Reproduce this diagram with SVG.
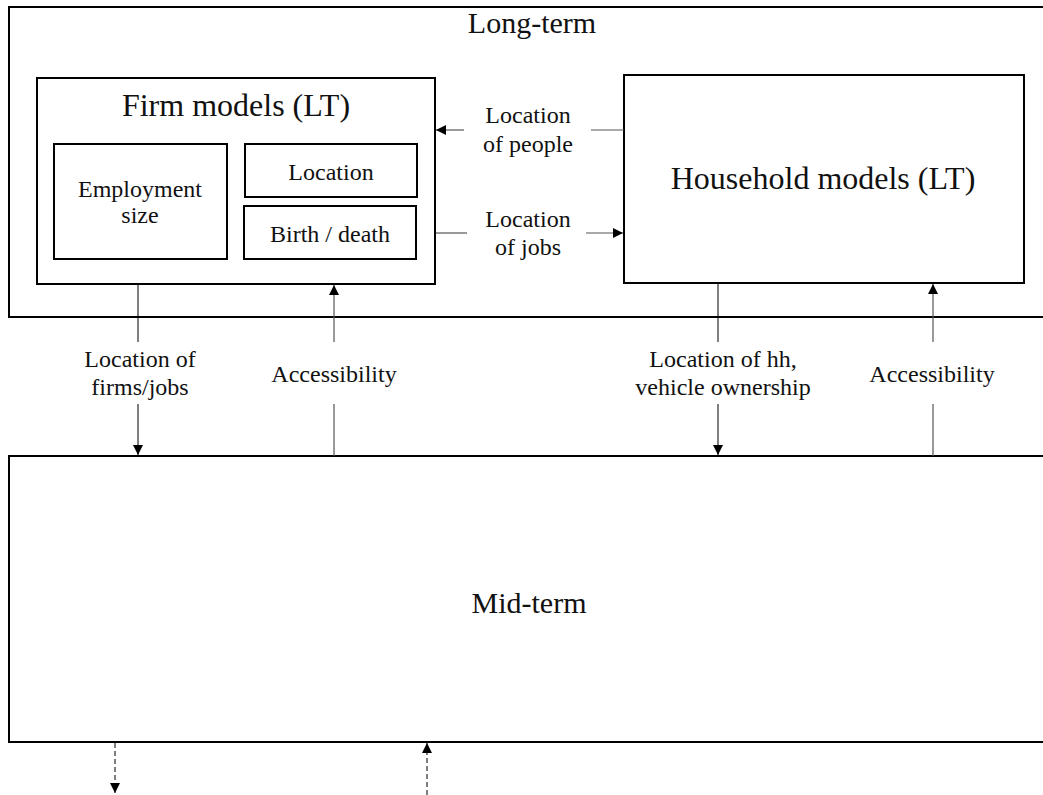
<svg xmlns="http://www.w3.org/2000/svg" width="1043" height="795" viewBox="0 0 1043 795">
<style>
.frame{fill:none;stroke:#000;stroke-width:2}
.box{fill:#fff;stroke:#000;stroke-width:2}
.ln{fill:none;stroke:#000;stroke-width:1}
.gl{fill:none;stroke:#555;stroke-width:1.2}
.dash{fill:none;stroke:#000;stroke-width:1;stroke-dasharray:5,3}
text{fill:#111;text-anchor:middle}
.big{font-size:32px}
.mid{font-size:30px}
.sm{font-size:24px}
</style>
<defs>
<marker id="ah" viewBox="0 0 10 10" refX="10" refY="5" markerWidth="10" markerHeight="10" markerUnits="userSpaceOnUse" orient="auto">
<path d="M0,0 L10,5 L0,10 Z" fill="#000"/>
</marker>
</defs>

<g font-family="'Liberation Serif', 'DejaVu Serif', serif">
<g id="long-term">
<path class="frame" d="M1045,7 H9 V317 H1045"/>
<text class="mid" x="532" y="33">Long-term</text>
</g>

<g id="mid-term">
<path class="frame" d="M1045,456 H9 V742 H1045"/>
<text class="mid" x="529" y="613">Mid-term</text>
</g>

<g id="firm-models">
<rect class="box" x="37" y="78" width="398" height="206"/>
<text class="big" x="236" y="116">Firm models (LT)</text>
</g>
<g id="employment-size">
<rect class="box" x="54" y="144" width="173" height="115"/>
<text class="sm" x="140" y="197">Employment</text>
<text class="sm" x="140" y="223">size</text>
</g>
<g id="location">
<rect class="box" x="245" y="144" width="172" height="53"/>
<text class="sm" x="331" y="180">Location</text>
</g>
<g id="birth-death">
<rect class="box" x="244" y="206" width="172" height="53"/>
<text class="sm" x="330" y="242">Birth / death</text>
</g>

<g id="household-models">
<rect class="box" x="624" y="75" width="400" height="208"/>
<text class="big" x="823" y="189">Household models (LT)</text>
</g>

<g id="connectors">
<!-- location of people -->
<line class="gl" x1="624" y1="130" x2="591" y2="130"/>
<line class="gl" x1="464" y1="130" x2="436" y2="130" marker-end="url(#ah)"/>
<!-- location of jobs -->
<line class="gl" x1="436" y1="233" x2="467" y2="233"/>
<line class="gl" x1="586" y1="233" x2="623" y2="233" marker-end="url(#ah)"/>
<!-- firm locations down -->
<line class="ln" x1="138" y1="285" x2="138" y2="342"/>
<line class="ln" x1="138" y1="404" x2="138" y2="455" marker-end="url(#ah)"/>
<!-- firm accessibility up -->
<line class="gl" x1="334" y1="342" x2="334" y2="285" marker-end="url(#ah)"/>
<line class="gl" x1="334" y1="404" x2="334" y2="456"/>
<!-- household locations down -->
<line class="ln" x1="718" y1="284" x2="718" y2="342"/>
<line class="ln" x1="718" y1="404" x2="718" y2="455" marker-end="url(#ah)"/>
<!-- household accessibility up -->
<line class="gl" x1="933" y1="342" x2="933" y2="284" marker-end="url(#ah)"/>
<line class="gl" x1="933" y1="404" x2="933" y2="456"/>
<!-- outgoing / incoming dashed -->
<line class="dash" x1="115" y1="743" x2="115" y2="793" marker-end="url(#ah)"/>
<line class="dash" x1="427" y1="795" x2="427" y2="743" marker-end="url(#ah)"/>
</g>

<g id="labels">
<text class="sm" x="528" y="123">Location</text>
<text class="sm" x="528" y="152">of people</text>
<text class="sm" x="528" y="227">Location</text>
<text class="sm" x="528" y="255">of jobs</text>
<text class="sm" x="140" y="367">Location of</text>
<text class="sm" x="140" y="395">firms/jobs</text>
<text class="sm" x="334" y="382">Accessibility</text>
<text class="sm" x="723" y="367">Location of hh,</text>
<text class="sm" x="723" y="395">vehicle ownership</text>
<text class="sm" x="932" y="382">Accessibility</text>
</g>
</g>
</svg>
